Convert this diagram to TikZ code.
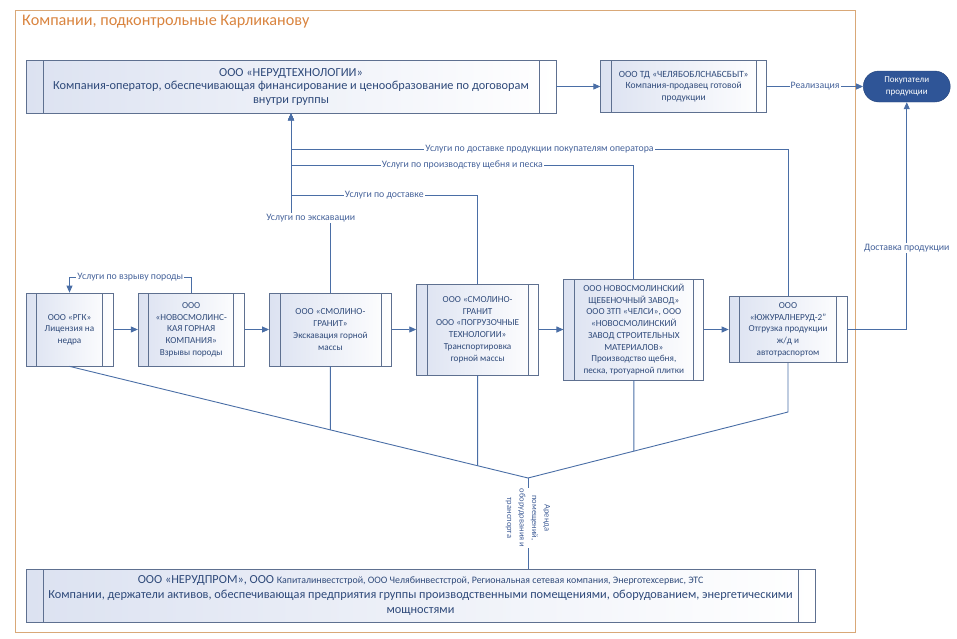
\documentclass[tikz,border=0pt]{standalone}
\usepackage{fontspec}
\setmainfont{Carlito}
\usetikzlibrary{arrows.meta,positioning}
\definecolor{FrameTan}{HTML}{D9A878}
\definecolor{TitleOrange}{HTML}{D9843F}
\definecolor{LinkBlue}{HTML}{4A6EA6}
\definecolor{BoxEdge}{HTML}{5E7090}
\definecolor{BoxShade}{HTML}{DCE2F1}
\definecolor{InkBlue}{HTML}{2F4A7A}
\definecolor{LabelBlue}{HTML}{45629A}
\definecolor{BuyerBlue}{HTML}{2F5597}
\tikzset{sidebar/.store in=\sidebarw, sidebar=10.5pt}

\begin{document}
\begin{tikzpicture}[
    x=1pt, y=-1pt,
    node distance=24.5pt,
    procbox/.style={draw=BoxEdge, line width=0.7pt, left color=BoxShade, right color=white,
                 align=center, text=InkBlue, inner sep=2pt,
                 font=\fontsize{9.2}{11.7}\selectfont,
                 path picture={\draw[BoxEdge, line width=0.7pt]
                   ([xshift=\sidebarw]path picture bounding box.north west) -- ([xshift=\sidebarw]path picture bounding box.south west)
                   ([xshift=-\sidebarw]path picture bounding box.north east) -- ([xshift=-\sidebarw]path picture bounding box.south east);}},
    widebox/.style={procbox, sidebar=17pt, font=\fontsize{12.3}{13.5}\selectfont},
    buyerbox/.style={draw=BuyerBlue!80!black, fill=BuyerBlue, text=white, rounded corners=15.5pt,
                 align=center, font=\fontsize{9}{11.5}\selectfont, minimum width=87pt, minimum height=31pt},
    linkline/.style={draw=LinkBlue, line width=0.9pt},
    linkarrow/.style={linkline, -{Triangle[length=7pt,width=6pt]}},
    linklabel/.style={fill=white, text=LabelBlue, inner sep=1pt, font=\fontsize{9.8}{11}\selectfont}
]
\useasboundingbox (0,0) rectangle (957,638);
\draw[FrameTan, line width=1pt] (15,10) rectangle (855,632);
\node[anchor=west, text=TitleOrange, font=\fontsize{16.2}{18}\selectfont, inner sep=0pt] (title) at (22,22)
  {Компании, подконтрольные Карликанову};

% operator and sales
\node[widebox, minimum width=530pt, minimum height=53pt] (nerud) at (291,86.5)
  {ООО «НЕРУДТЕХНОЛОГИИ»\\Компания-оператор, обеспечивающая финансирование и ценообразование по договорам\\внутри группы};
\node[procbox, minimum width=166pt, minimum height=52pt, right=44pt of nerud,
      font=\fontsize{9.5}{11.7}\selectfont] (td)
  {ООО ТД «ЧЕЛЯБОБЛСНАБСБЫТ»\\Компания-продавец готовой\\продукции};
\node[buyerbox, right=96pt of td] (buyers) {Покупатели\\продукции};

% production chain
\node[procbox, minimum width=87pt, minimum height=73pt] (rgk) at (69.5,329.5)
  {ООО «РГК»\\Лицензия на\\недра};
\node[procbox, minimum width=106pt, minimum height=73pt, right=of rgk] (blast)
  {ООО\\«НОВОСМОЛИНС-\\КАЯ ГОРНАЯ\\КОМПАНИЯ»\\Взрывы породы};
\node[procbox, minimum width=122pt, minimum height=73pt, right=of blast] (exc)
  {ООО «СМОЛИНО-\\ГРАНИТ»\\Экскавация горной\\массы};
\node[procbox, minimum width=122pt, minimum height=91pt, right=of exc] (haul)
  {ООО «СМОЛИНО-\\ГРАНИТ\\ООО «ПОГРУЗОЧНЫЕ\\ТЕХНОЛОГИИ»\\Транспортировка\\горной массы};
\node[procbox, minimum width=140pt, minimum height=101pt, right=of haul] (plant)
  {ООО НОВОСМОЛИНСКИЙ\\ЩЕБЕНОЧНЫЙ ЗАВОД»\\ООО ЗТП «ЧЕЛСИ», ООО\\«НОВОСМОЛИНСКИЙ\\ЗАВОД СТРОИТЕЛЬНЫХ\\МАТЕРИАЛОВ»\\Производство щебня,\\песка, тротуарной плитки};
\node[procbox, minimum width=118pt, minimum height=66pt, right=of plant] (ship)
  {ООО\\«ЮЖУРАЛНЕРУД-2"\\Отгрузка продукции\\ж/д и\\автотраспортом};

% asset holders
\node[widebox, minimum width=789pt, minimum height=53pt, font=\fontsize{12.3}{15}\selectfont] (prom) at (420.5,595.5)
  {ООО «НЕРУДПРОМ», ООО {\fontsize{9.9}{15}\selectfont Капиталинвестстрой, ООО Челябинвестстрой, Региональная сетевая компания, Энерготехсервис, ЭТС}\\Компании, держатели активов, обеспечивающая предприятия группы производственными помещениями, оборудованием, энергетическими\\мощностями};

\draw[linkarrow] (nerud.east) -- (td.west);
\draw[linkarrow] (td.east) -- node[linklabel] {Реализация} (buyers.west);
\draw[linkarrow] (ship.east) -| node[linklabel, pos=.68] {Доставка продукции} (buyers.south);
\draw[linkarrow] (rgk.east) -- (blast.west);
\draw[linkarrow] (blast.east) -- (exc.west);
\draw[linkarrow] (exc.east) -- (haul.west);
\draw[linkarrow] (haul.east) -- (plant.west);
\draw[linkarrow] (plant.east) -- (ship.west);
\draw[linkarrow] (blast.north) |- node[linklabel, pos=.75] {Услуги по взрыву породы} (rgk.north |- 0,277) -- (rgk.north);

% services back to the operator
\draw[linkarrow] (exc.north) |- node[linklabel, pos=.75] {Услуги по экскавации} (nerud.south |- 0,218) -- (nerud.south);
\draw[linkarrow] (haul.north) |- node[linklabel, pos=.75] {Услуги по доставке} (nerud.south |- 0,195) -- (nerud.south);
\draw[linkarrow] (plant.north) |- node[linklabel, pos=.75] {Услуги по производству щебня и песка} (nerud.south |- 0,165) -- (nerud.south);
\draw[linkarrow] (ship.north) |- node[linklabel, pos=.75] {Услуги по доставке продукции покупателям оператора} (nerud.south |- 0,149) -- (nerud.south);

% lease fan
\coordinate (hub) at (528,478);
\coordinate (shipbend) at (ship.south |- 0,412);
\node[linklabel, rotate=-90, align=center, font=\fontsize{8.5}{12.5}\selectfont] (lease) at (528,518)
  {Аренда\\помещений,\\оборудования и\\транспорта};
\draw[linkline] (rgk.south) -- (hub);
\draw[linkline] (exc.south) -- (intersection of rgk.south--hub and exc.south--exc.center);
\draw[linkline] (haul.south) -- (intersection of rgk.south--hub and haul.south--haul.center);
\draw[linkline] (plant.south) -- (intersection of shipbend--hub and plant.south--plant.center);
\draw[linkline] (ship.south) -- (shipbend) -- (hub);
\draw[linkline] (hub) -- (lease);
\draw[linkline] (lease) -- (lease |- prom.north);
\end{tikzpicture}
\end{document}
